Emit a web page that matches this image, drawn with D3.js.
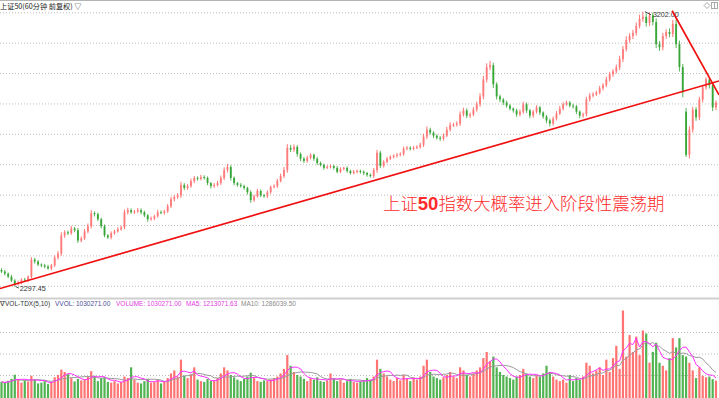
<!DOCTYPE html>
<html><head><meta charset="utf-8">
<script src="https://cdn.jsdelivr.net/npm/d3@7"></script>
<style>html,body{margin:0;padding:0;background:#fff;overflow:hidden}svg{display:block}</style>
</head><body><svg id="c" width="719" height="398"></svg>
<script>
// ---- data ----
const title = "上证50(60分钟 前复权) ▽";
const note = ["上证", "50", "指数大概率进入阶段性震荡期"];
const closes = [
2347,2340,2330,2317,2305,2310,2320,2317,2330,2386,
2380,2370,2367,2363,2357,2367,2393,2406,2466,2476,
2473,2489,2483,2449,2456,2479,2496,2539,2536,2519,
2496,2466,2459,2473,2479,2486,2492,2542,2549,2542,
2545,2549,2542,2532,2519,2522,2529,2542,2540,2545,
2562,2585,2592,2598,2632,2622,2628,2645,2655,2652,
2658,2655,2638,2628,2632,2638,2655,2681,2691,2655,
2638,2632,2628,2622,2608,2582,2595,2612,2598,2595,
2608,2625,2628,2645,2661,2681,2754,2748,2757,2734,
2718,2711,2721,2731,2718,2704,2698,2688,2691,2694,
2688,2675,2685,2688,2678,2671,2675,2678,2675,2671,
2665,2661,2681,2738,2695,2708,2718,2724,2728,2731,
2734,2751,2754,2751,2754,2757,2764,2791,2814,2804,
2794,2787,2784,2794,2814,2830,2830,2834,2864,2877,
2860,2864,2880,2897,2923,2979,3019,3026,2963,2923,
2913,2903,2893,2883,2877,2864,2873,2897,2877,2860,
2873,2887,2870,2857,2844,2834,2850,2867,2883,2897,
2903,2893,2890,2873,2860,2864,2913,2926,2930,2936,
2950,2960,2979,2996,3006,3019,3046,3079,3109,3122,
3132,3155,3178,3185,3165,3190,3168,3095,3085,3122,
3135,3129,3162,3095,3020,2937,2731,2814,2880,2854,
2913,2953,2979,2960,2887,2903];
const openGaps = {0: 2352, 206: 2873};
const upperWick = [
6,5,4,6,5,7,5,6,4,8, 6,5,4,5,6,5,7,8,10,7, 6,8,5,7,6,8,9,10,6,5, 5,6,4,6,5,7,6,9,8,6,
5,7,6,5,4,6,5,8,6,5, 7,8,6,7,10,6,7,8,6,5, 7,6,5,4,6,7,8,9,10,6, 5,4,6,5,4,6,5,7,5,4,
6,5,6,7,8,10,12,9,8,6, 5,6,7,5,4,6,5,4,6,5, 4,6,5,4,5,4,6,5,4,5, 4,5,6,9,6,5,6,5,4,6,
5,7,6,5,6,5,7,9,10,6, 5,4,6,7,9,8,6,7,10,9, 7,6,8,9,11,12,13,14,8,7, 6,5,6,5,4,6,7,9,6,5,
6,7,5,4,5,6,7,8,9,7, 6,5,6,5,4,6,9,8,7,6, 8,7,9,8,7,9,11,10,12,9, 10,12,14,17,11,10,9,12,11,10,
9,12,13,14,12,10,12,11,9,8, 9,8,7,8,9,7];
const lowerWick = [
5,6,5,4,7.55,4,5,4,5,6, 7,5,6,5,4,6,5,6,7,8, 6,5,7,8,6,5,6,7,8,6, 7,6,5,6,5,4,5,6,7,5,
6,5,7,6,8,5,6,5,4,6, 5,6,7,6,8,7,6,5,7,6, 5,6,7,8,6,5,6,7,8,9, 7,6,5,6,8,9,6,5,6,5,
6,5,4,6,5,7,9,8,7,9, 8,7,6,5,7,6,5,6,4,5, 6,5,4,5,6,5,4,5,6,7, 6,5,6,9,8,6,5,4,5,6,
5,6,5,6,5,4,6,7,8,7, 8,6,7,6,5,6,7,6,8,7, 8,7,6,7,8,9,10,9,12,10, 9,8,7,6,7,8,6,7,8,9,
7,6,8,7,9,10,7,6,5,6, 5,6,7,8,9,7,6,7,6,5, 6,7,6,7,8,7,9,10,8,9, 10,9,8,9,12,10,11,13,12,10,
9,11,10,13,15,17,7,12,10,11, 9,10,8,11,12,9];
// volume in thousands
const volumes = [
950,880,1020,1150,1420,1100,900,1050,980,1350,
1100,850,900,1000,820,950,1250,1400,1750,1600,
1450,1200,980,1150,1050,1100,1300,1650,1350,1000,
1200,1250,950,900,1000,850,950,1300,1200,1900,
1100,900,850,1000,1150,900,950,1100,850,1000,
1200,1500,1700,1300,2400,1350,1200,1450,1900,1100,
1000,950,1150,1000,1050,1200,1500,1900,1700,1400,
1250,1100,1000,1150,1300,1550,1200,1000,950,1050,
1000,1100,1200,1300,1500,1800,2700,2000,1600,1400,
1300,1150,1000,1200,1100,1250,1000,950,1050,1500,
1200,1000,1100,900,1000,1150,950,900,1000,1050,
1200,1100,1300,2400,1800,1500,1300,1100,1000,1200,
1050,1400,1150,1000,1250,1100,1300,2000,2400,1600,
1300,1200,1100,1250,1400,1600,1300,1200,1900,1700,
1400,1300,1500,1700,1900,2500,2900,2300,2600,1900,
1600,1400,1300,1200,1100,1300,1400,1800,1500,1300,
1200,1400,1300,1500,2000,1600,1300,1100,1000,1100,
900,1400,1000,1200,1100,1300,2200,2000,1500,1700,
1900,1400,2400,1600,2500,3300,1800,5600,2600,4000,
2900,3900,2700,4300,4100,2200,2900,3500,2200,2000,
1700,2500,3800,3200,3800,2700,2600,2200,1700,1200,
1900,1350,1250,1300,1130,1030.271];
const priceTicks = [2300,2400,2500,2600,2700,2800,2900,3000,3100,3200];
const volTicks = [1400, 2800, 4200];
const trendUp = [{i:-0.45, p:2291}, {i:215.9, p:2974}];
const trendDown = [{i:201.8, p:3205}, {i:215.9, p:2928}];
const legend = [
  {t:"∇VOL-TDX(5,10)", c:"#333", x:0},
  {t:"VVOL: 1030271.00", c:"#4b4b95", x:55},
  {t:"VOLUME: 1030271.00", c:"#e23ce2", x:116},
  {t:"MA5: 1213071.63", c:"#e23ce2", x:186},
  {t:"MA10: 1286039.50", c:"#8a8a8a", x:241}
];

// ---- build ----
const N = closes.length;
const candles = closes.map((c,i)=>{
  const o = openGaps[i] !== undefined ? openGaps[i] : closes[i-1];
  return {i, o, c, h: Math.max(o,c)+upperWick[i], l: Math.min(o,c)-lowerWick[i], v: volumes[i]*1000};
});
const UP = "#ff5050", DOWN = "#30a330";
const svg = d3.select("#c");
const x = d3.scaleLinear().domain([0, N-1]).range([1.5, 716]);
const y = d3.scaleLinear().domain([2300, 3200]).range([285.8, 12.3]);
const yv = d3.scaleLinear().domain([0, 1400000]).range([396.5, 375]);

// frame
svg.append("line").attr("x1",0).attr("x2",719).attr("y1",0.5).attr("y2",0.5).attr("stroke","#b4b4b4");
svg.append("rect").attr("x",0).attr("y",297.5).attr("width",719).attr("height",2).attr("fill","#cfcfcf");

// grids via axes
const gp = svg.append("g").call(d3.axisRight(y).tickValues(priceTicks).tickSize(719).tickFormat(""));
const gv = svg.append("g").call(d3.axisRight(yv).tickValues(volTicks.map(v=>v*1000)).tickSize(719).tickFormat(""));
[gp,gv].forEach(g=>{g.select(".domain").remove();
  g.selectAll(".tick line").attr("stroke","#bdbdbd").attr("stroke-dasharray","1,2");});

// title
svg.append("text").attr("x",0).attr("y",9.3).attr("font-family","'Noto Sans CJK SC',sans-serif")
  .attr("font-size",7.2).attr("fill","#222").text(title);
// top-right icons
svg.append("path").attr("d","M707,2.5 L710,5.5 L707,8.5 L704,5.5 Z").attr("fill","none").attr("stroke","#aaa");
svg.append("rect").attr("x",711.5).attr("y",2.5).attr("width",6).attr("height",6).attr("fill","none").attr("stroke","#aaa");
svg.append("line").attr("x1",714.5).attr("x2",714.5).attr("y1",2.5).attr("y2",8.5).attr("stroke","#aaa");

// candles
const pc = svg.append("g");
pc.selectAll("line.w").data(candles).join("line").attr("class","w")
  .attr("x1",d=>x(d.i)).attr("x2",d=>x(d.i)).attr("y1",d=>y(d.h)).attr("y2",d=>y(d.l))
  .attr("stroke",d=>d.c>=d.o?UP:DOWN).attr("stroke-width",1).attr("opacity",0.8);
pc.selectAll("rect").data(candles).join("rect")
  .attr("x",d=>x(d.i)-0.95).attr("width",1.9)
  .attr("y",d=>y(Math.max(d.o,d.c))).attr("height",d=>Math.max(1,Math.abs(y(d.o)-y(d.c))))
  .attr("fill",d=>d.c>=d.o?"#ff7878":DOWN).attr("opacity",0.9);

// extreme labels
const hiIdx = d3.maxIndex(candles,d=>d.h), loIdx = d3.minIndex(candles,d=>d.l);
const hi = candles[hiIdx], lo = candles[loIdx];
const numFont = "'Liberation Sans',Arial,sans-serif";
svg.append("line").attr("x1",x(hi.i)+2).attr("y1",y(hi.h)).attr("x2",x(hi.i)+8).attr("y2",y(hi.h)+3).attr("stroke","#444");
svg.append("text").attr("x",x(hi.i)+10).attr("y",y(hi.h)+5.6).attr("font-family",numFont).attr("font-size",7.2)
  .attr("fill","#333").text(hi.h.toFixed(2));
svg.append("line").attr("x1",x(lo.i)+1).attr("y1",y(lo.l)).attr("x2",x(lo.i)+4).attr("y2",y(lo.l)+1.5).attr("stroke","#444");
svg.append("text").attr("x",x(lo.i)+5).attr("y",y(lo.l)+4).attr("font-family",numFont).attr("font-size",7.2)
  .attr("fill","#333").text(lo.l.toFixed(2));

// trend lines
svg.append("clipPath").attr("id","pclip").append("rect").attr("x",0).attr("y",1).attr("width",719).attr("height",296);
const tl = d3.line().x(d=>x(d.i)).y(d=>y(d.p));
[trendUp,trendDown].forEach(t=>svg.append("path").attr("d",tl(t)).attr("clip-path","url(#pclip)")
  .attr("fill","none").attr("stroke","#f01010").attr("stroke-width",1.7));

// annotation text
const nt = svg.append("text").attr("x",383).attr("y",209.5).attr("fill","#ff2a2a")
  .attr("font-family","'Noto Sans CJK SC',sans-serif").attr("font-size",17.4).attr("font-weight",300);
nt.append("tspan").text(note[0]);
nt.append("tspan").attr("font-family","'Liberation Sans',Arial,sans-serif").attr("font-weight","bold").attr("font-size",18.5).text(note[1]);
nt.append("tspan").text(note[2]);

// volume bars
const vg = svg.append("g");
vg.selectAll("rect").data(candles).join("rect")
  .attr("x",d=>x(d.i)-1.1).attr("width",2.2)
  .attr("y",d=>yv(d.v)).attr("height",d=>yv(0)-yv(d.v)+2)
  .attr("fill",d=>d.c>=d.o?"#ff6060":"#3aa83a").attr("opacity",0.88);
// moving averages
function ma(n){return candles.map((d,i)=>({i, v:d3.mean(candles.slice(Math.max(0,i-n+1),i+1),e=>e.v)}));}
const ml = d3.line().x(d=>x(d.i)).y(d=>yv(d.v));
svg.append("path").attr("d",ml(ma(10))).attr("fill","none").attr("stroke","#9a9a9a").attr("stroke-width",1);
svg.append("path").attr("d",ml(ma(5))).attr("fill","none").attr("stroke","#ff30ff").attr("stroke-width",1);

// legend
legend.forEach(l=>svg.append("text").attr("x",l.x).attr("y",305.6).attr("font-family",numFont)
  .attr("font-size",6.5).attr("fill",l.c).text(l.t));
</script></body></html>
